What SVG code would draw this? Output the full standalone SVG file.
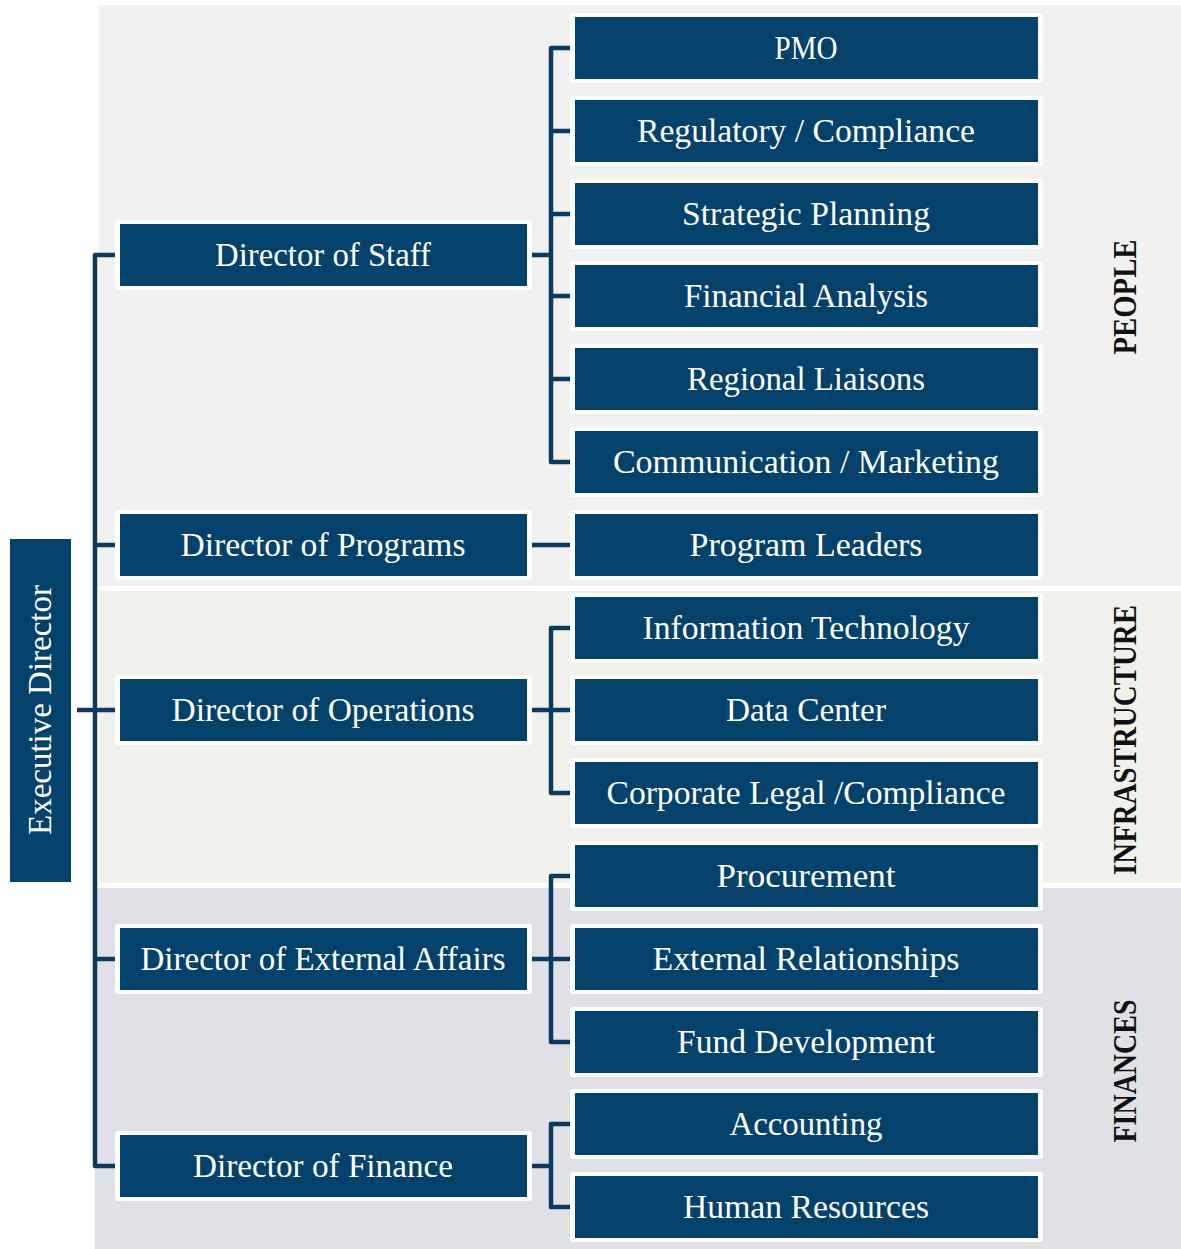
<svg xmlns="http://www.w3.org/2000/svg" width="1181" height="1249" viewBox="0 0 1181 1249">
  <style>
    .band-people { fill: #f1f1f1; }
    .band-infra { fill: #f1f1eb; }
    .band-fin { fill: #e0e1e6; }
    .halo { fill: #ffffff; }
    .box { fill: #04416b; }
    .label { font-family: "Liberation Serif", "Times New Roman", serif; font-size: 33px; fill: #ffffff; text-anchor: middle; }
    .section { font-family: "Liberation Serif", "Times New Roman", serif; font-size: 34px; font-weight: bold; fill: #111111; text-anchor: middle; }
    .conn { fill: none; stroke: #0b3a5e; stroke-width: 4.5; stroke-linejoin: round; stroke-linecap: butt; }
  </style>

  <rect width="1181" height="1249" fill="#ffffff"/>

  <!-- section bands -->
  <g id="bands">
    <rect class="band-people" x="99" y="5" width="1082" height="581"/>
    <rect class="band-infra" x="99" y="591" width="1082" height="292"/>
    <rect class="band-fin" x="95" y="888" width="1086" height="361"/>
  </g>

  <!-- section titles -->
  <g id="section-titles">
    <text class="section" transform="translate(1136,297) rotate(-90)" textLength="115" lengthAdjust="spacingAndGlyphs">PEOPLE</text>
    <text class="section" transform="translate(1136,740) rotate(-90)" textLength="270" lengthAdjust="spacingAndGlyphs">INFRASTRUCTURE</text>
    <text class="section" transform="translate(1136,1071) rotate(-90)" textLength="143" lengthAdjust="spacingAndGlyphs">FINANCES</text>
  </g>

  <!-- connectors -->
  <g id="connectors">
    <path class="conn" d="M115,255 H95 V1166 H115 M77,710 H115 M95,545 H115 M95,959 H115"/>
    <path class="conn" d="M570,48 H551 V462 H570 M551,131 H570 M551,214 H570 M551,296 H570 M551,379 H570 M532,255 H551"/>
    <path class="conn" d="M532,545 H570"/>
    <path class="conn" d="M570,628 H551 V793 H570 M532,710 H570"/>
    <path class="conn" d="M570,876 H551 V1042 H570 M532,959 H570"/>
    <path class="conn" d="M570,1124 H551 V1207 H570 M532,1166 H551"/>
  </g>

  <!-- root -->
  <g id="executive-director">
    <rect class="box" x="10" y="539" width="61" height="343"/>
    <text class="label" transform="translate(51,710) rotate(-90)" textLength="250" lengthAdjust="spacingAndGlyphs">Executive Director</text>
  </g>

  <!-- directors -->
  <g id="director-staff">
    <rect class="halo" x="115" y="220" width="417" height="70" rx="3"/>
    <rect class="box" x="120" y="224" width="407" height="62"/>
    <text class="label" x="323" y="266" textLength="216" lengthAdjust="spacingAndGlyphs">Director of Staff</text>
  </g>
  <g id="director-programs">
    <rect class="halo" x="115" y="510" width="417" height="70" rx="3"/>
    <rect class="box" x="120" y="514" width="407" height="62"/>
    <text class="label" x="323" y="556" textLength="285" lengthAdjust="spacingAndGlyphs">Director of Programs</text>
  </g>
  <g id="director-operations">
    <rect class="halo" x="115" y="675" width="417" height="70" rx="3"/>
    <rect class="box" x="120" y="679" width="407" height="62"/>
    <text class="label" x="323" y="721" textLength="303" lengthAdjust="spacingAndGlyphs">Director of Operations</text>
  </g>
  <g id="director-external-affairs">
    <rect class="halo" x="115" y="924" width="417" height="70" rx="3"/>
    <rect class="box" x="120" y="928" width="407" height="62"/>
    <text class="label" x="323" y="970" textLength="365" lengthAdjust="spacingAndGlyphs">Director of External Affairs</text>
  </g>
  <g id="director-finance">
    <rect class="halo" x="115" y="1131" width="417" height="70" rx="3"/>
    <rect class="box" x="120" y="1135" width="407" height="62"/>
    <text class="label" x="323" y="1177" textLength="260" lengthAdjust="spacingAndGlyphs">Director of Finance</text>
  </g>

  <!-- units -->
  <g id="pmo">
    <rect class="halo" x="570" y="13" width="473" height="70" rx="3"/>
    <rect class="box" x="575" y="17" width="463" height="62"/>
    <text class="label" x="806" y="59" textLength="63" lengthAdjust="spacingAndGlyphs">PMO</text>
  </g>
  <g id="regulatory-compliance">
    <rect class="halo" x="570" y="96" width="473" height="70" rx="3"/>
    <rect class="box" x="575" y="100" width="463" height="62"/>
    <text class="label" x="806" y="142" textLength="338" lengthAdjust="spacingAndGlyphs">Regulatory / Compliance</text>
  </g>
  <g id="strategic-planning">
    <rect class="halo" x="570" y="179" width="473" height="70" rx="3"/>
    <rect class="box" x="575" y="183" width="463" height="62"/>
    <text class="label" x="806" y="225" textLength="248" lengthAdjust="spacingAndGlyphs">Strategic Planning</text>
  </g>
  <g id="financial-analysis">
    <rect class="halo" x="570" y="261" width="473" height="70" rx="3"/>
    <rect class="box" x="575" y="265" width="463" height="62"/>
    <text class="label" x="806" y="307" textLength="244" lengthAdjust="spacingAndGlyphs">Financial Analysis</text>
  </g>
  <g id="regional-liaisons">
    <rect class="halo" x="570" y="344" width="473" height="70" rx="3"/>
    <rect class="box" x="575" y="348" width="463" height="62"/>
    <text class="label" x="806" y="390" textLength="238" lengthAdjust="spacingAndGlyphs">Regional Liaisons</text>
  </g>
  <g id="communication-marketing">
    <rect class="halo" x="570" y="427" width="473" height="70" rx="3"/>
    <rect class="box" x="575" y="431" width="463" height="62"/>
    <text class="label" x="806" y="473" textLength="386" lengthAdjust="spacingAndGlyphs">Communication / Marketing</text>
  </g>
  <g id="program-leaders">
    <rect class="halo" x="570" y="510" width="473" height="70" rx="3"/>
    <rect class="box" x="575" y="514" width="463" height="62"/>
    <text class="label" x="806" y="556" textLength="233" lengthAdjust="spacingAndGlyphs">Program Leaders</text>
  </g>
  <g id="information-technology">
    <rect class="halo" x="570" y="593" width="473" height="70" rx="3"/>
    <rect class="box" x="575" y="597" width="463" height="62"/>
    <text class="label" x="806" y="639" textLength="327" lengthAdjust="spacingAndGlyphs">Information Technology</text>
  </g>
  <g id="data-center">
    <rect class="halo" x="570" y="675" width="473" height="70" rx="3"/>
    <rect class="box" x="575" y="679" width="463" height="62"/>
    <text class="label" x="806" y="721" textLength="160" lengthAdjust="spacingAndGlyphs">Data Center</text>
  </g>
  <g id="corporate-legal-compliance">
    <rect class="halo" x="570" y="758" width="473" height="70" rx="3"/>
    <rect class="box" x="575" y="762" width="463" height="62"/>
    <text class="label" x="806" y="804" textLength="399" lengthAdjust="spacingAndGlyphs">Corporate Legal /Compliance</text>
  </g>
  <g id="procurement">
    <rect class="halo" x="570" y="841" width="473" height="70" rx="3"/>
    <rect class="box" x="575" y="845" width="463" height="62"/>
    <text class="label" x="806" y="887" textLength="179" lengthAdjust="spacingAndGlyphs">Procurement</text>
  </g>
  <g id="external-relationships">
    <rect class="halo" x="570" y="924" width="473" height="70" rx="3"/>
    <rect class="box" x="575" y="928" width="463" height="62"/>
    <text class="label" x="806" y="970" textLength="307" lengthAdjust="spacingAndGlyphs">External Relationships</text>
  </g>
  <g id="fund-development">
    <rect class="halo" x="570" y="1007" width="473" height="70" rx="3"/>
    <rect class="box" x="575" y="1011" width="463" height="62"/>
    <text class="label" x="806" y="1053" textLength="258" lengthAdjust="spacingAndGlyphs">Fund Development</text>
  </g>
  <g id="accounting">
    <rect class="halo" x="570" y="1089" width="473" height="70" rx="3"/>
    <rect class="box" x="575" y="1093" width="463" height="62"/>
    <text class="label" x="806" y="1135" textLength="153" lengthAdjust="spacingAndGlyphs">Accounting</text>
  </g>
  <g id="human-resources">
    <rect class="halo" x="570" y="1172" width="473" height="70" rx="3"/>
    <rect class="box" x="575" y="1176" width="463" height="62"/>
    <text class="label" x="806" y="1218" textLength="246" lengthAdjust="spacingAndGlyphs">Human Resources</text>
  </g>
</svg>
